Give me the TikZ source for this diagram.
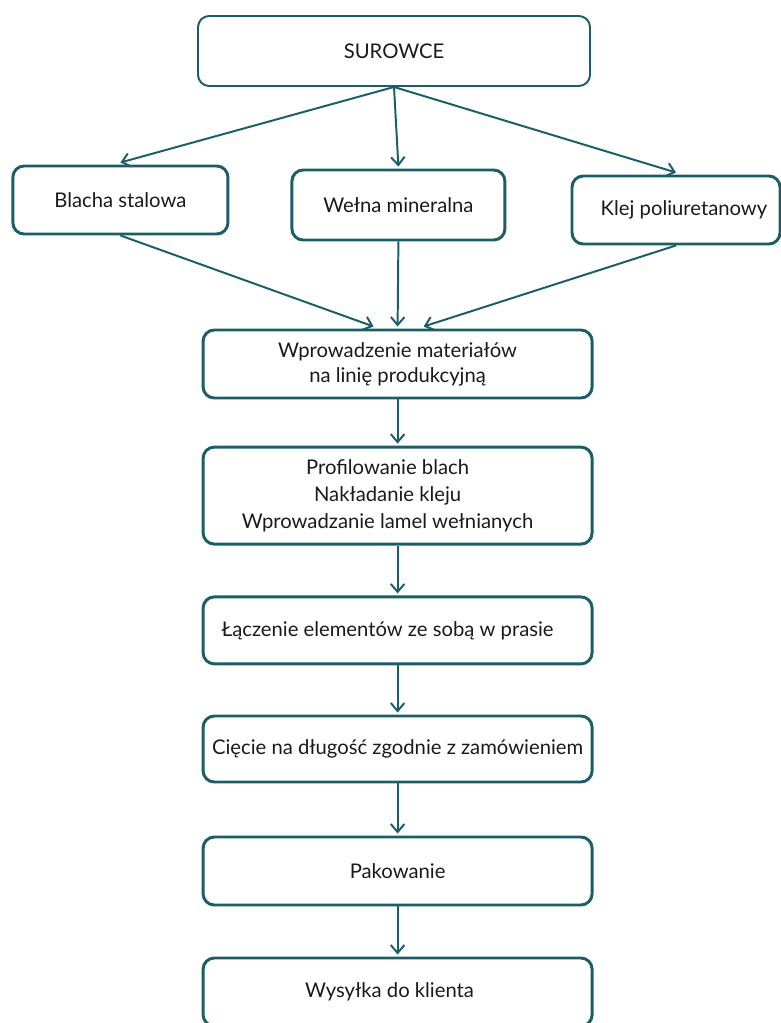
\documentclass[tikz,border=0pt]{standalone}
\usepackage{fontspec}
\setmainfont{Lato}
\usetikzlibrary{positioning, arrows.meta}
\definecolor{teal1}{HTML}{1B5E66}
\definecolor{txt1}{HTML}{1A1A1A}
\begin{document}
\begin{tikzpicture}[every node/.style={align=center, text=txt1, font=\fontsize{14.4}{17.8}\selectfont}, >={Straight Barb[length=2mm,width=3.4mm]}]
			\useasboundingbox (0,0) rectangle (19.525,-25.575);
			\tikzset{box/.style={draw=teal1, line width=2.1pt, rounded corners=0.28cm, minimum height=1.7cm}}
			% Top
			\node[box, line width=1.4pt, minimum width=9.8cm, minimum height=1.75cm] (sur) at (9.85,-1.275) {SUROWCE};
			% Raw materials
			\node[box, minimum width=5.375cm] (blacha) at (3.01,-5.0) {Blacha stalowa};
			\node[box, minimum width=5.325cm, minimum height=1.75cm] (welna) at (9.96,-5.125) {Wełna mineralna};
			\node[box, minimum width=5.2cm] (klej) at (16.9,-5.25) {\hspace*{0.4cm}Klej poliuretanowy};
			\draw[->, line width=1.4pt, teal1] (sur.south) -- ([yshift=0.05cm]blacha.north);
			\draw[->, line width=1.4pt, teal1] (sur.south) -- ([yshift=0.05cm]welna.north);
			\draw[->, line width=1.4pt, teal1] (sur.south) -- ([yshift=0.05cm]klej.north);
			% Line
			\node[box, minimum width=9.725cm] (wpr) at (9.94,-9.1) {Wprowadzenie materiałów\\na linię produkcyjną};
			\node[box, minimum width=9.725cm, minimum height=2.425cm, font=\fontsize{14.4}{19.2}\selectfont] (prof) at (9.94,-12.39) {\hspace*{-0.5cm}Profilowanie blach\\\hspace*{-0.5cm}Nakładanie kleju\\\hspace*{-0.5cm}Wprowadzanie lamel wełnianych};
			\node[box, minimum width=9.725cm, minimum height=1.675cm] (lacz) at (9.94,-15.76) {\hspace*{-0.5cm}Łączenie elementów ze sobą w prasie};
			\node[box, minimum width=9.725cm, minimum height=1.65cm] (ciecie) at (9.94,-18.725) {Cięcie na długość zgodnie z zamówieniem};
			\node[box, minimum width=9.725cm] (pak) at (9.94,-21.775) {Pakowanie};
			\node[box, minimum width=9.725cm] (wys) at (9.94,-24.8) {\hspace*{-0.4cm}Wysyłka do klienta};
			\draw[->, line width=1.4pt, teal1] (blacha.south) -- ([xshift=-0.6cm, yshift=0.05cm]wpr.north);
			\draw[->, line width=1.4pt, teal1] (welna.south) -- ([yshift=0.05cm]wpr.north);
			\draw[->, line width=1.4pt, teal1] (klej.south) -- ([xshift=0.65cm, yshift=0.05cm]wpr.north);
			% Arrows Down
			\draw[->, line width=1.4pt, teal1] (wpr.south) -- ([yshift=0.05cm]prof.north);
			\draw[->, line width=1.4pt, teal1] (prof.south) -- ([yshift=0.05cm]lacz.north);
			\draw[->, line width=1.4pt, teal1] (lacz.south) -- ([yshift=0.05cm]ciecie.north);
			\draw[->, line width=1.4pt, teal1] (ciecie.south) -- ([yshift=0.05cm]pak.north);
			\draw[->, line width=1.4pt, teal1] (pak.south) -- ([yshift=0.05cm]wys.north);
		\end{tikzpicture}
\end{document}
